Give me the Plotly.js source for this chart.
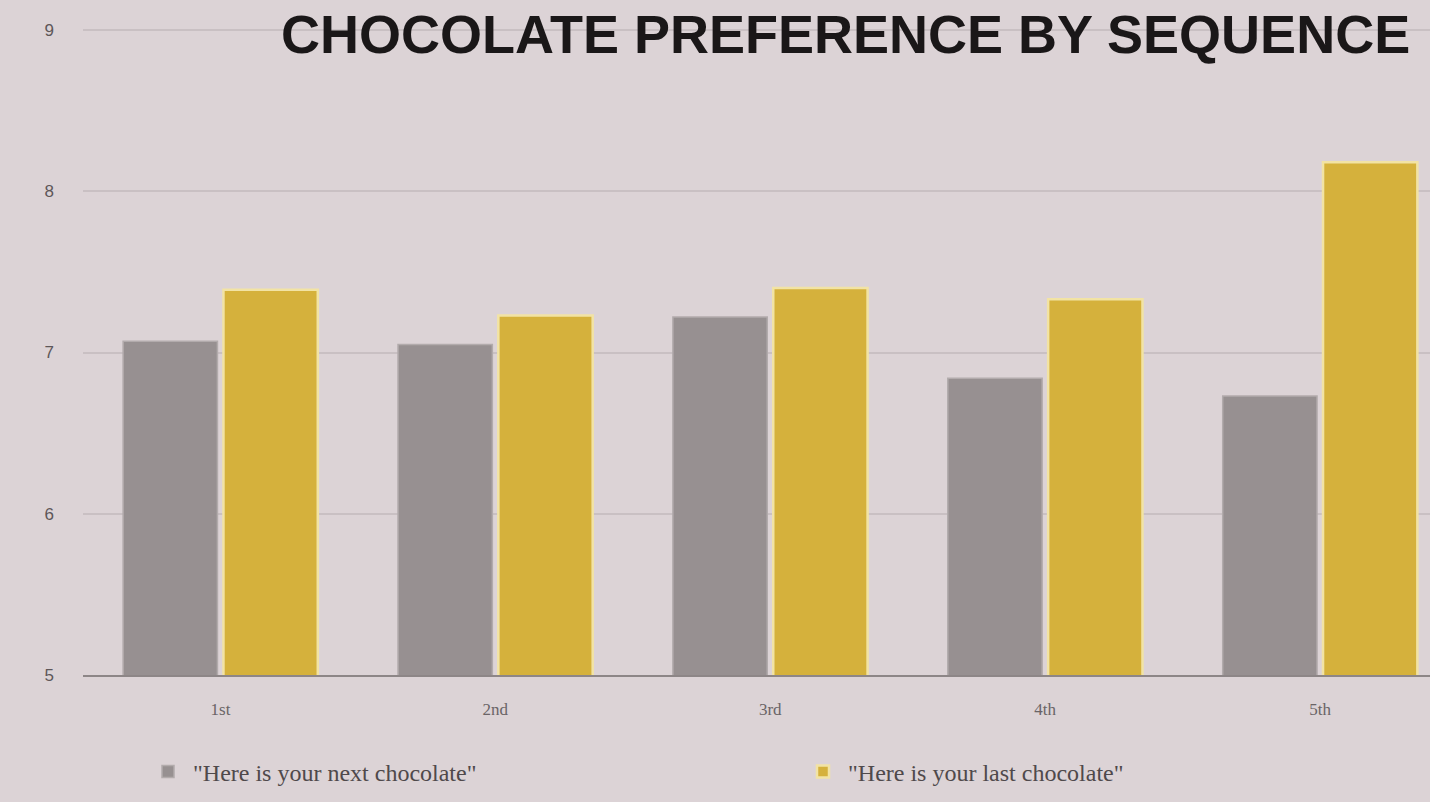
<!DOCTYPE html>
<html>
<head>
<meta charset="utf-8">
<script src="https://cdn.plot.ly/plotly-3.0.1.min.js"></script>
<style>
  html, body { margin: 0; padding: 0; background: #dcd3d6; }
  #chart { width: 1430px; height: 802px; }
</style>
</head>
<body>
<div id="chart"></div>
<script>
// Data
const sequence = ["1st", "2nd", "3rd", "4th", "5th"];
const nextChocolate = [7.07, 7.05, 7.22, 6.84, 6.73];
const lastChocolate = [7.39, 7.23, 7.40, 7.33, 8.18];
const seriesNames = ["\"Here is your next chocolate\"", "\"Here is your last chocolate\""];
const yTicks = [5, 6, 7, 8, 9];
const titleText = "CHOCOLATE PREFERENCE BY SEQUENCE";

const traces = [
  {
    type: "bar",
    name: seriesNames[0],
    x: sequence,
    y: nextChocolate,
    marker: { color: "#979091", line: { color: "#b2abac", width: 1.5 } }
  },
  {
    type: "bar",
    name: seriesNames[1],
    x: sequence,
    y: lastChocolate,
    marker: { color: "#d5b13c", line: { color: "#f2e3a4", width: 2.5 } }
  }
];

const layout = {
  width: 1430,
  height: 802,
  paper_bgcolor: "#dcd3d6",
  plot_bgcolor: "#dcd3d6",
  margin: { l: 83, r: 0, t: 22, b: 127 },
  barmode: "group",
  bargap: 0.27,
  bargroupgap: 0.06,
  showlegend: true,
  annotations: [
    {
      text: "<b>" + titleText + "</b>",
      font: { family: "Liberation Sans, Arial, sans-serif", size: 54, color: "#1a1718" },
      xref: "paper",
      yref: "paper",
      x: (1412 - 83) / 1347,
      xanchor: "right",
      y: (675 - 66) / 653,
      yanchor: "bottom",
      showarrow: false
    }
  ],
  xaxis: {
    type: "category",
    range: [-0.5, 4.4],
    showgrid: false,
    showline: true,
    linecolor: "#8d8687",
    linewidth: 2,
    ticks: "",
    tickfont: { family: "Liberation Serif, serif", size: 17, color: "#6a6466" },
    ticklabelstandoff: 18,
    fixedrange: true
  },
  yaxis: {
    range: [5, 9.05],
    tickvals: yTicks,
    ticktext: yTicks.map(String),
    showgrid: true,
    gridcolor: "#c9c0c3",
    gridwidth: 2,
    zeroline: false,
    showline: false,
    ticks: "",
    tickfont: { family: "Liberation Sans, Arial, sans-serif", size: 17, color: "#5e5759" },
    ticklabelstandoff: 28,
    fixedrange: true
  },
  legend: {
    orientation: "h",
    xref: "container",
    yref: "container",
    x: 0.1,
    xanchor: "left",
    y: 1 - 772 / 802,
    yanchor: "middle",
    entrywidth: 600,
    entrywidthmode: "pixels",
    itemwidth: 40,
    font: { family: "Liberation Serif, serif", size: 24, color: "#4f494b" },
    bgcolor: "rgba(0,0,0,0)",
    traceorder: "normal"
  }
};

Plotly.newPlot("chart", traces, layout, { displayModeBar: false, staticPlot: true });
</script>
</body>
</html>
